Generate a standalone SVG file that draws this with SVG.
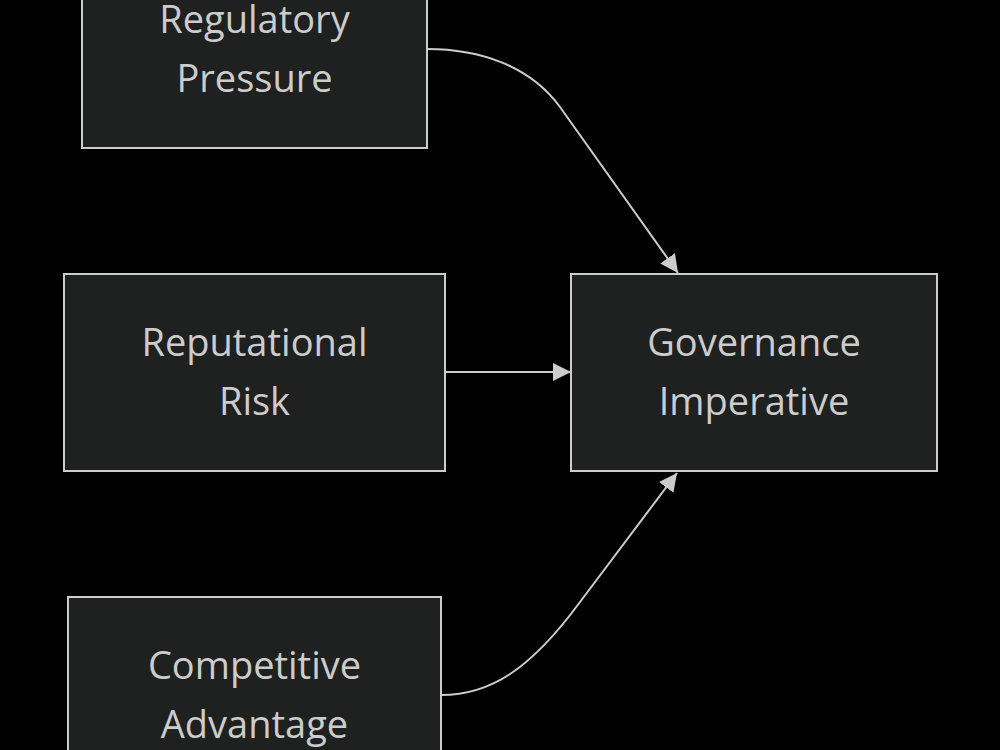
<svg xmlns="http://www.w3.org/2000/svg" width="1000" height="750" viewBox="0 0 1000 750">
<style>
.box{fill:#1f2020;stroke:#cccccc;stroke-width:2}
.lbl{font-family:"Open Sans","Liberation Sans",sans-serif;font-size:38px;fill:#cccccc;text-anchor:middle}
.edge{fill:none;stroke:#cccccc;stroke-width:2}
</style>
<defs>
<marker id="arr" markerUnits="userSpaceOnUse" markerWidth="20" markerHeight="20" refX="18" refY="9" orient="auto">
<path d="M0,0 L18,9 L0,18 z" fill="#cccccc"/>
</marker>
</defs>
<rect x="0" y="0" width="1000" height="750" fill="#000000"/>
<g id="connectors">
<path class="edge" d="M427,49 C480,49 530,66 560,107 L678,273" marker-end="url(#arr)"/>
<path class="edge" d="M446,372 L571,372" marker-end="url(#arr)"/>
<path class="edge" d="M441,695 C490,695 530,670 580,602 L677,473" marker-end="url(#arr)"/>
</g>
<g id="regulatory">
<rect class="box" x="82" y="-49" width="345" height="197"/>
<text class="lbl" x="254.5" y="33">Regulatory</text>
<text class="lbl" x="254.5" y="92">Pressure</text>
</g>
<g id="reputational">
<rect class="box" x="64" y="274" width="381" height="197"/>
<text class="lbl" x="254.5" y="356">Reputational</text>
<text class="lbl" x="254.5" y="415">Risk</text>
</g>
<g id="governance">
<rect class="box" x="571" y="274" width="366" height="197"/>
<text class="lbl" x="754" y="356">Governance</text>
<text class="lbl" x="754" y="415">Imperative</text>
</g>
<g id="competitive">
<rect class="box" x="68" y="597" width="373" height="197"/>
<text class="lbl" x="254.5" y="679">Competitive</text>
<text class="lbl" x="254.5" y="738">Advantage</text>
</g>
</svg>
